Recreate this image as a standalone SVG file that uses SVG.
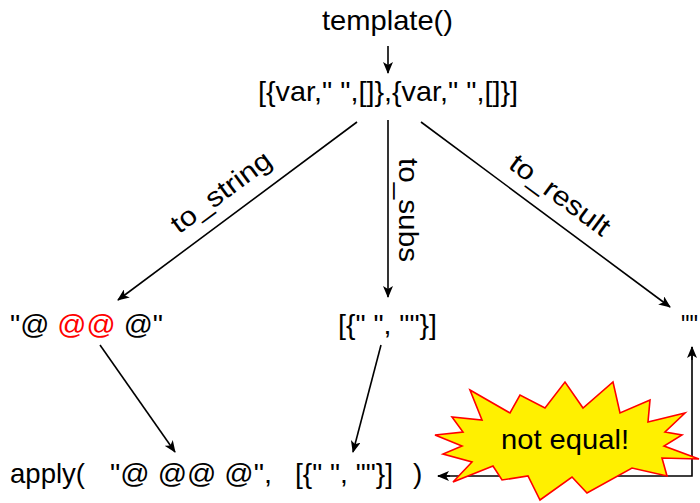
<svg xmlns="http://www.w3.org/2000/svg" width="700" height="503" viewBox="0 0 700 503">
<style>
text{font-family:"Liberation Sans",Arial,sans-serif;font-size:28px;fill:#000}
.lbl{font-size:27px}
.ln{stroke:#000;stroke-width:1.6;fill:none}
.red{fill:#ff0000}
</style>
<defs>
<marker id="ah" viewBox="0 0 12 10" refX="11" refY="5" markerWidth="12" markerHeight="10" markerUnits="userSpaceOnUse" orient="auto">
<path d="M0,0 L12,5 L0,10 L3,5 z" fill="#000"/>
</marker>
</defs>
<rect width="700" height="503" fill="#fff"/>
<g id="connectors">
<line class="ln" x1="388" y1="46" x2="388" y2="73" marker-end="url(#ah)"/>
<line class="ln" x1="357" y1="122" x2="118" y2="300" marker-end="url(#ah)"/>
<line class="ln" x1="388" y1="120" x2="388" y2="297" marker-end="url(#ah)"/>
<line class="ln" x1="421" y1="122" x2="670" y2="307" marker-end="url(#ah)"/>
<line class="ln" x1="100" y1="345" x2="175" y2="452" marker-end="url(#ah)"/>
<line class="ln" x1="381" y1="345" x2="353" y2="452" marker-end="url(#ah)"/>
<polyline class="ln" points="438,476 692,476 692,347"/>
<line class="ln" x1="692" y1="360" x2="692" y2="347" marker-end="url(#ah)"/>
<line class="ln" x1="450" y1="476" x2="438" y2="476" marker-end="url(#ah)"/>
<text class="lbl" x="221" y="201" text-anchor="middle" textLength="118" lengthAdjust="spacingAndGlyphs" transform="rotate(-36.6 221 192)">to_string</text>
<text class="lbl" x="408" y="219" text-anchor="middle" textLength="104" lengthAdjust="spacingAndGlyphs" transform="rotate(90 408 210)">to_subs</text>
<text class="lbl" x="560" y="204" text-anchor="middle" textLength="118" lengthAdjust="spacingAndGlyphs" transform="rotate(36.5 560 195)">to_result</text>
</g>
<g id="template"><text x="322" y="30" textLength="131" lengthAdjust="spacingAndGlyphs">template()</text></g>
<g id="list"><text x="258" y="101" textLength="260" lengthAdjust="spacingAndGlyphs">[{var," ",[]},{var," ",[]}]</text></g>
<g id="string"><text x="10" y="334" textLength="153" lengthAdjust="spacingAndGlyphs">"@ <tspan class="red">@@</tspan> @"</text></g>
<g id="subs"><text x="338" y="334" textLength="99" lengthAdjust="spacingAndGlyphs">[{" ", ""}]</text></g>
<g id="result"><text x="681" y="334" textLength="17" lengthAdjust="spacingAndGlyphs">""</text></g>
<g id="apply">
<text x="10" y="483" textLength="75" lengthAdjust="spacingAndGlyphs">apply(</text>
<text x="110" y="483" textLength="162" lengthAdjust="spacingAndGlyphs">"@ @@ @",</text>
<text x="295" y="483" textLength="98" lengthAdjust="spacingAndGlyphs">[{" ", ""}]</text>
<text x="413" y="483">)</text>
</g>
<g id="star">
<polygon points="470,390 510,413 520,395 545,408 565,382 583,408 613,382 620,413 650,400 648,422 685,413 665,432 682,435 664,446 699,459 662,458 667,476 632,468 587,493 572,477 540,500 528,476 502,480 493,466 453,482 472,462 443,454 462,446 435,435 463,432 452,417 482,420" fill="#fff000" stroke="#ff0000" stroke-width="1.6" stroke-linejoin="miter"/>
<text x="565" y="449" text-anchor="middle" textLength="128" lengthAdjust="spacingAndGlyphs">not equal!</text>
</g>
</svg>
